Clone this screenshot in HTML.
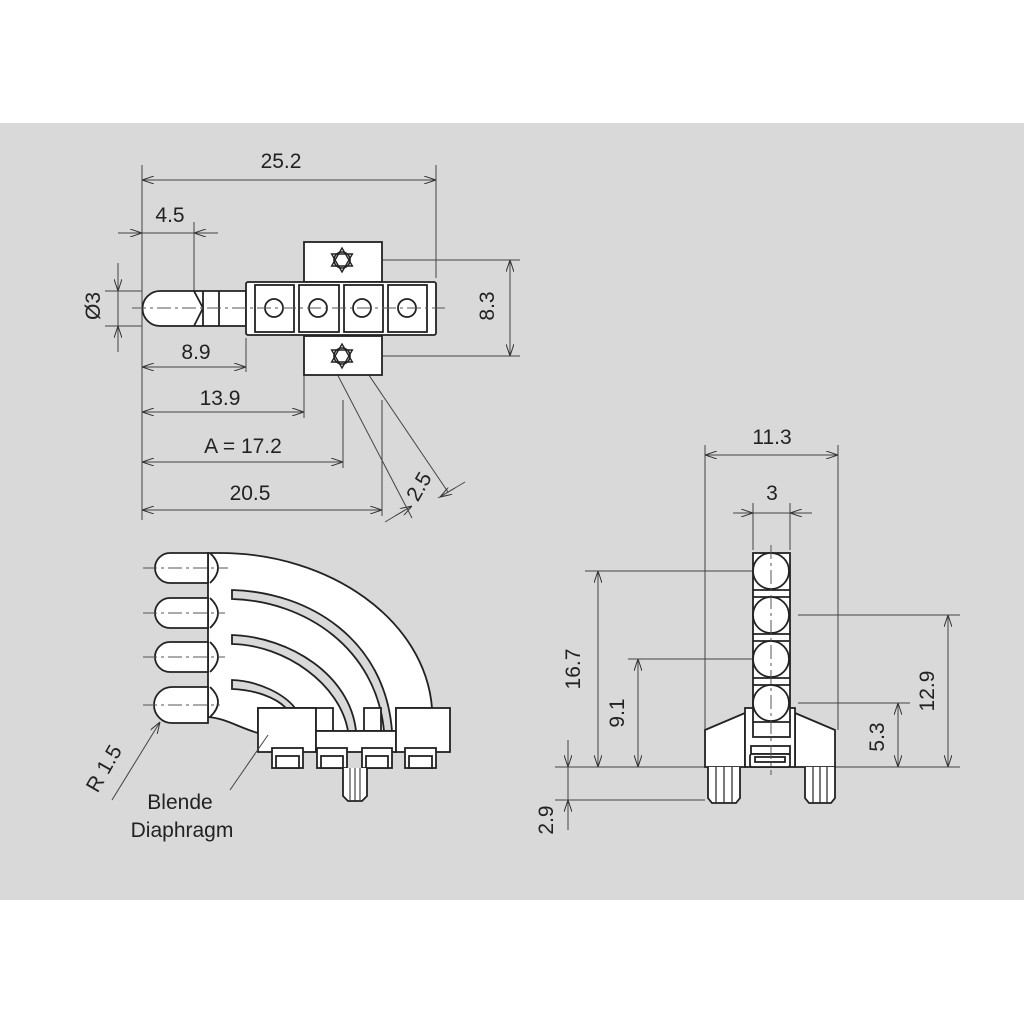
<!DOCTYPE html>
<html><head><style>html,body{margin:0;padding:0;background:#fff}svg{display:block}</style></head><body>
<svg width="1024" height="1024" viewBox="0 0 1024 1024" xmlns="http://www.w3.org/2000/svg" font-family="'Liberation Sans Narrow','Liberation Sans',sans-serif" font-size="21" fill="#222">
<defs>
<marker id="a" viewBox="0 0 12 8" refX="12" refY="4" markerWidth="12" markerHeight="8" orient="auto-start-reverse" markerUnits="userSpaceOnUse"><path d="M0,0 L12,4 L0,8" fill="none" stroke="#333" stroke-width="1"/></marker>
<g id="star"><circle r="8" fill="none" stroke="#222" stroke-width="1.6"/><path d="M0,-12 L10.4,6 L-10.4,6Z M0,12 L10.4,-6 L-10.4,-6Z" fill="none" stroke="#222" stroke-width="1.4"/></g>
</defs>
<rect x="0" y="123" width="1024" height="777" fill="#d9d9d9"/>
<g stroke="#444" stroke-width="1" fill="none">
<line x1="142" y1="165" x2="142" y2="520"/><line x1="436" y1="165" x2="436" y2="278"/>
<line x1="142" y1="180" x2="436" y2="180" marker-start="url(#a)" marker-end="url(#a)"/>
<line x1="118" y1="233" x2="142" y2="233" marker-end="url(#a)"/><line x1="218" y1="233" x2="194" y2="233" marker-end="url(#a)"/><line x1="142" y1="233" x2="194" y2="233"/>
<line x1="194" y1="222" x2="194" y2="291"/>
<line x1="105" y1="291" x2="142" y2="291"/><line x1="105" y1="326" x2="142" y2="326"/>
<line x1="118" y1="263" x2="118" y2="291" marker-end="url(#a)"/><line x1="118" y1="352" x2="118" y2="326" marker-end="url(#a)"/><line x1="118" y1="291" x2="118" y2="326"/>
<line x1="350" y1="260" x2="520" y2="260"/><line x1="355" y1="356" x2="520" y2="356"/>
<line x1="510" y1="260" x2="510" y2="356" marker-start="url(#a)" marker-end="url(#a)"/>
<line x1="246" y1="338" x2="246" y2="372"/><line x1="142" y1="367" x2="246" y2="367" marker-start="url(#a)" marker-end="url(#a)"/>
<line x1="304" y1="375" x2="304" y2="418"/><line x1="142" y1="412" x2="304" y2="412" marker-start="url(#a)" marker-end="url(#a)"/>
<line x1="343" y1="400" x2="343" y2="468"/><line x1="142" y1="462" x2="343" y2="462" marker-start="url(#a)" marker-end="url(#a)"/>
<line x1="382" y1="400" x2="382" y2="516"/><line x1="142" y1="510" x2="382" y2="510" marker-start="url(#a)" marker-end="url(#a)"/>
<line x1="334" y1="368" x2="412" y2="518"/><line x1="356" y1="356" x2="448" y2="492"/>
<line x1="385" y1="522" x2="405" y2="510" /><line x1="438" y1="498" x2="465" y2="482"/>
<line x1="395" y1="516" x2="412" y2="506" marker-end="url(#a)"/><line x1="455" y1="488" x2="440" y2="497" marker-end="url(#a)"/>
</g>
<g stroke="#222" stroke-width="1.8" fill="#fff">
<rect x="304" y="242" width="78" height="40"/>
<rect x="304" y="336" width="78" height="39"/>
<path d="M246,291 H160 A17.5,17.5 0 0 0 160,326 H246Z"/>
<path d="M194,291 L203,308 L194,326 M203,291 V326" fill="none"/>
<line x1="219" y1="291" x2="219" y2="326"/>
<rect x="246" y="282" width="190" height="53" rx="2"/>
<rect x="255" y="285" width="39" height="47"/><rect x="299" y="285" width="40" height="47"/><rect x="344" y="285" width="39" height="47"/><rect x="388" y="285" width="39" height="47"/>
<circle cx="274" cy="308" r="9"/><circle cx="318" cy="308" r="9"/><circle cx="362" cy="308" r="9"/><circle cx="407" cy="308" r="9"/>
</g>
<line x1="132" y1="308" x2="445" y2="308" stroke="#555" stroke-width="1" stroke-dasharray="14,4,3,4"/>
<use href="#star" x="342" y="260"/><use href="#star" x="342" y="356"/>
<text x="281" y="168" text-anchor="middle">25.2</text>
<text x="170" y="222" text-anchor="middle">4.5</text>
<text transform="translate(100,306) rotate(-90)" text-anchor="middle">Ø3</text>
<text transform="translate(494,306) rotate(-90)" text-anchor="middle">8.3</text>
<text x="196" y="359" text-anchor="middle">8.9</text>
<text x="220" y="405" text-anchor="middle">13.9</text>
<text x="243" y="453" text-anchor="middle">A = 17.2</text>
<text x="250" y="500" text-anchor="middle">20.5</text>
<text transform="translate(425,490) rotate(-60)" text-anchor="middle">2.5</text>
<g stroke="#222" stroke-width="1.8">
<path d="M208,553 H220 C330,553 425,620 432,708 H396 V731 H316 V708 H258 V733 C240,728 225,718 208,717Z" fill="#fff"/>
<path d="M232,590 C310,592 385,640 392,731 L384,731 C376,648 305,601 232,599Z" fill="#d9d9d9"/>
<path d="M232,635 C290,637 350,675 356,731 L348,731 C340,684 285,645 232,644Z" fill="#d9d9d9"/>
<path d="M232,680 C260,681 285,695 295,708 L286,708 C275,697 255,690 232,689Z" fill="#d9d9d9"/>
<g fill="#fff">
<path d="M208,553 H170 A15,15 0 0 0 170,583 H208Z"/>
<path d="M208,598 H170 A15,15 0 0 0 170,628 H208Z"/>
<path d="M208,642 H170 A15,15 0 0 0 170,672 H208Z"/>
<path d="M208,687 H172 A18,18 0 0 0 172,723 H208Z"/>
<path d="M210,553 Q226,568 210,583 M210,598 Q226,613 210,628 M210,642 Q226,657 210,672 M210,687 Q226,702 210,717" fill="none"/>
<rect x="258" y="708" width="58" height="44"/>
<rect x="316" y="708" width="17" height="23"/><rect x="364" y="708" width="17" height="23"/>
<rect x="316" y="731" width="80" height="21"/>
<rect x="396" y="708" width="54" height="44"/>
<rect x="272" y="748" width="31" height="20"/><rect x="317" y="748" width="30" height="20"/><rect x="362" y="748" width="30" height="20"/><rect x="405" y="748" width="31" height="20"/>
<rect x="276" y="756" width="23" height="12"/><rect x="321" y="756" width="22" height="12"/><rect x="366" y="756" width="22" height="12"/><rect x="409" y="756" width="23" height="12"/>
<path d="M343,768 V796 L348,801 H362 L367,796 V768"/>
</g>
<path d="M350,768 V800 M355,768 V801 M360,768 V800" fill="none" stroke-width="1"/>
</g>
<g stroke="#555" stroke-width="1" stroke-dasharray="14,4,3,4">
<line x1="143" y1="568" x2="228" y2="568"/><line x1="143" y1="613" x2="225" y2="613"/><line x1="143" y1="657" x2="225" y2="657"/><line x1="143" y1="705" x2="220" y2="705"/>
</g>
<g stroke="#444" stroke-width="1">
<line x1="112" y1="800" x2="160" y2="722" marker-end="url(#a)"/>
<line x1="230" y1="790" x2="268" y2="735"/>
</g>
<text transform="translate(110,772) rotate(-60)" text-anchor="middle">R 1.5</text>
<text x="180" y="809" text-anchor="middle">Blende</text>
<text x="182" y="837" text-anchor="middle">Diaphragm</text>
<g stroke="#444" stroke-width="1" fill="none">
<line x1="705" y1="445" x2="705" y2="730"/><line x1="838" y1="445" x2="838" y2="730"/>
<line x1="705" y1="455" x2="838" y2="455" marker-start="url(#a)" marker-end="url(#a)"/>
<line x1="753" y1="503" x2="753" y2="550"/><line x1="790" y1="503" x2="790" y2="550"/>
<line x1="733" y1="513" x2="753" y2="513" marker-end="url(#a)"/><line x1="812" y1="513" x2="790" y2="513" marker-end="url(#a)"/><line x1="753" y1="513" x2="790" y2="513"/>
<line x1="585" y1="571" x2="760" y2="571"/><line x1="628" y1="659" x2="760" y2="659"/>
<line x1="798" y1="615" x2="960" y2="615"/><line x1="798" y1="703" x2="910" y2="703"/>
<line x1="555" y1="767" x2="960" y2="767"/><line x1="555" y1="800" x2="705" y2="800"/>
<line x1="598" y1="571" x2="598" y2="767" marker-start="url(#a)" marker-end="url(#a)"/>
<line x1="638" y1="659" x2="638" y2="767" marker-start="url(#a)" marker-end="url(#a)"/>
<line x1="948" y1="615" x2="948" y2="767" marker-start="url(#a)" marker-end="url(#a)"/>
<line x1="898" y1="703" x2="898" y2="767" marker-start="url(#a)" marker-end="url(#a)"/>
<line x1="568" y1="740" x2="568" y2="767" marker-end="url(#a)"/><line x1="568" y1="830" x2="568" y2="800" marker-end="url(#a)"/><line x1="568" y1="767" x2="568" y2="800"/>
</g>
<g stroke="#222" stroke-width="1.8" fill="#fff">
<path d="M705,730 L745,713 V767 H705Z"/><path d="M835,730 L795,713 V767 H835Z"/>
<rect x="745" y="708" width="50" height="59"/>
<rect x="753" y="553" width="37" height="184"/>
<line x1="753" y1="590" x2="790" y2="590"/><line x1="753" y1="597" x2="790" y2="597"/>
<line x1="753" y1="634" x2="790" y2="634"/><line x1="753" y1="641" x2="790" y2="641"/>
<line x1="753" y1="678" x2="790" y2="678"/><line x1="753" y1="685" x2="790" y2="685"/>
<line x1="753" y1="722" x2="790" y2="722"/>
<circle cx="771" cy="571" r="18"/><circle cx="771" cy="615" r="18"/><circle cx="771" cy="659" r="18"/><circle cx="771" cy="703" r="18"/>
<rect x="751" y="746" width="39" height="8"/><rect x="750" y="754" width="40" height="13" rx="2"/><rect x="755" y="757" width="30" height="5"/>
<path d="M708,767 V798 L712,803 H736 L740,798 V767"/><path d="M805,767 V798 L809,803 H831 L835,798 V767"/>
</g>
<path d="M716,767 V803 M724,767 V803 M732,767 V803 M813,767 V803 M820,767 V803 M827,767 V803" stroke="#222" stroke-width="1.2"/>
<line x1="771" y1="545" x2="771" y2="775" stroke="#555" stroke-width="1" stroke-dasharray="14,4,3,4"/>
<text x="772" y="444" text-anchor="middle">11.3</text>
<text x="772" y="500" text-anchor="middle">3</text>
<text transform="translate(580,669) rotate(-90)" text-anchor="middle">16.7</text>
<text transform="translate(624,713) rotate(-90)" text-anchor="middle">9.1</text>
<text transform="translate(934,691) rotate(-90)" text-anchor="middle">12.9</text>
<text transform="translate(884,737) rotate(-90)" text-anchor="middle">5.3</text>
<text transform="translate(553,820) rotate(-90)" text-anchor="middle">2.9</text>
</svg>
</body></html>
